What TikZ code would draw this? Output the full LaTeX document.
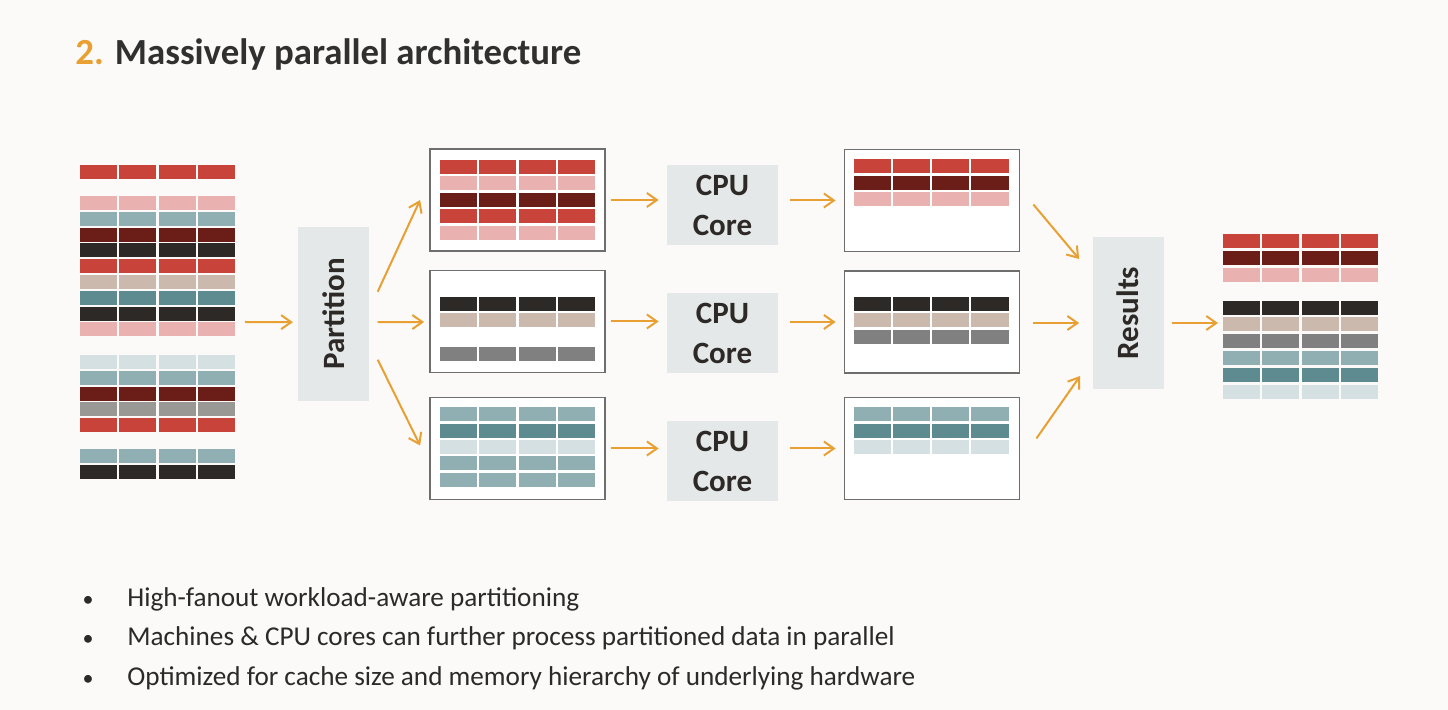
\documentclass[tikz,border=0pt]{standalone}
\usepackage{fontspec}
\setmainfont{Carlito}
\usepackage{graphicx}
\usepackage{tikz}
\usetikzlibrary{positioning,calc,arrows.meta}

\definecolor{paper}{RGB}{251,250,249}
\definecolor{ink}{RGB}{45,41,38}
\definecolor{heading}{RGB}{48,48,48}
\definecolor{accent}{RGB}{232,160,50}
\definecolor{panel}{RGB}{229,232,233}
\definecolor{frame}{RGB}{110,110,110}
\definecolor{brick}{RGB}{200,67,58}
\definecolor{blush}{RGB}{233,178,176}
\definecolor{maroon}{RGB}{107,30,24}
\definecolor{sand}{RGB}{203,185,174}
\definecolor{mist}{RGB}{143,175,179}
\definecolor{teal}{RGB}{94,139,143}
\definecolor{frost}{RGB}{213,224,226}
\definecolor{stone}{RGB}{154,152,148}
\definecolor{slate}{RGB}{128,128,128}

% one record: four cells side by side
\newcommand{\cellrow}[3]{%
	\foreach \c in {0,...,3}
		\fill[#3] ({#1+\c*39.3},#2) rectangle ++(37.1,14);
}

\begin{document}
\begin{tikzpicture}[
			x=0.5pt, y=-0.5pt,
			box/.style = {draw=frame, line width=0.9pt, fill=white, minimum width=87.5pt, minimum height=51pt, inner sep=0pt},
			core/.style = {fill=panel, minimum width=55.5pt, minimum height=40pt, inner sep=0pt, align=center, text=ink, font=\bfseries\fontsize{15.5}{20}\selectfont},
			tall/.style = {fill=panel, minimum width=35.5pt, inner sep=0pt, text=ink, font=\bfseries\fontsize{15.5}{20}\selectfont},
			arr/.style = {draw=accent, line width=1pt, -{Straight Barb[length=5pt,width=7pt]}},
			point/.style = {anchor=base west, inner sep=0pt, text=ink, font=\fontsize{13.6}{16}\selectfont}
		]
		\fill[paper] (0,0) rectangle (1448,710);
		\useasboundingbox (0,0) rectangle (1448,710);

		\node[anchor=base west, inner sep=0pt, text=heading, font=\bfseries\fontsize{18.4}{22}\selectfont] (title) at (75,65) {\textcolor{accent}{2.} Massively parallel architecture};

		% Input records.
		\cellrow{80}{165}{brick}
		\foreach \col [count=\i from 0] in {blush,mist,maroon,ink,brick,sand,teal,ink,blush}
			\cellrow{80}{196+\i*15.8}{\col};
		\foreach \col [count=\i from 0] in {frost,mist,maroon,stone,brick}
			\cellrow{80}{355+\i*15.8}{\col};
		\foreach \col [count=\i from 0] in {mist,ink}
			\cellrow{80}{449.3+\i*15.8}{\col};
		\coordinate (src) at (245,322);

		\node[tall, minimum height=87pt] (part) at (333.8,313.7) {\rotatebox{90}{Partition}};

		% Partitions.
		\node[box] (p1) at (517.5,200) {};
		\node[box] (p2) at (517.5,321.5) {};
		\node[box] (p3) at (517.5,448.5) {};
		\foreach \col [count=\i from 0] in {brick,blush,maroon,brick,blush}
			\cellrow{440}{160+\i*16.5}{\col};
		\cellrow{440}{297}{ink}
		\cellrow{440}{313.5}{sand}
		\cellrow{440}{347.5}{slate}
		\foreach \col [count=\i from 0] in {mist,teal,frost,mist,mist}
			\cellrow{440}{407.5+\i*16.3}{\col};

		% Cores.
		\node[core] (cpu1) at (722.5,205) {CPU\\Core};
		\node[core] (cpu2) at (722.5,333) {CPU\\Core};
		\node[core] (cpu3) at (722.5,461) {CPU\\Core};

		% Partial results.
		\node[box] (r1) at (932,200.5) {};
		\node[box] (r2) at (932,322) {};
		\node[box] (r3) at (932,448.5) {};
		\foreach \col [count=\i from 0] in {brick,maroon,blush}
			\cellrow{853.5}{159.5+\i*16.5}{\col};
		\foreach \col [count=\i from 0] in {ink,sand,slate}
			\cellrow{853.5}{297+\i*16.5}{\col};
		\foreach \col [count=\i from 0] in {mist,teal,frost}
			\cellrow{853.5}{407.5+\i*16.3}{\col};

		\node[tall, minimum height=76pt] (res) at (1128,313) {\rotatebox{90}{Results}};

		% Output records.
		\foreach \col [count=\i from 0] in {brick,maroon,blush}
			\cellrow{1223}{234+\i*17}{\col};
		\foreach \col [count=\i from 0] in {ink,sand,slate,mist,teal,frost}
			\cellrow{1223}{300.7+\i*16.8}{\col};
		\coordinate (dst) at (1218,323);

		\draw[arr] (src) -- ($(part.west)+(-5,8.5)$);
		\draw[arr] ($(part.east)+(8,-22)$) -- ($(p1.west)+(-9,0)$);
		\draw[arr] ($(part.east)+(8,8.5)$) -- ($(p2.west)+(-5,0.5)$);
		\draw[arr] ($(part.east)+(8,46)$) -- ($(p3.west)+(-9,-3)$);
		\draw[arr] ($(p1.east)+(5,0)$) -- ($(cpu1.west |- p1.east)+(-8,0)$);
		\draw[arr] ($(p2.east)+(5,0)$) -- ($(cpu2.west |- p2.east)+(-8,0)$);
		\draw[arr] ($(p3.east)+(5,0)$) -- ($(cpu3.west |- p3.east)+(-8,0)$);
		\draw[arr] ($(cpu1.east |- r1.west)+(12,0)$) -- ($(r1.west)+(-8,0)$);
		\draw[arr] ($(cpu2.east |- r2.west)+(12,0)$) -- ($(r2.west)+(-8,0)$);
		\draw[arr] ($(cpu3.east |- r3.west)+(12,0)$) -- ($(r3.west)+(-8,0)$);
		\draw[arr] ($(r1.east)+(13,4)$) -- ($(res.west)+(-13,-54)$);
		\draw[arr] ($(r2.east)+(13,1)$) -- ($(res.west)+(-13,10)$);
		\draw[arr] ($(r3.east)+(16,-10)$) -- ($(res.west)+(-12,63)$);
		\draw[arr] ($(res.east)+(8,10)$) -- (dst);

		% Bullet points.
		\node[point] (b1) at (127,607) {High-fanout workload-aware partitioning};
		\node[point] (b2) at (127,646) {Machines \& CPU cores can further process partitioned data in parallel};
		\node[point] (b3) at (127,686) {Optimized for cache size and memory hierarchy of underlying hardware};
		\foreach \b in {b1,b2,b3}
			\node[point, anchor=base, font=\fontsize{11}{13}\selectfont] at (88,0 |- \b.base) {•};
	\end{tikzpicture}
\end{document}
